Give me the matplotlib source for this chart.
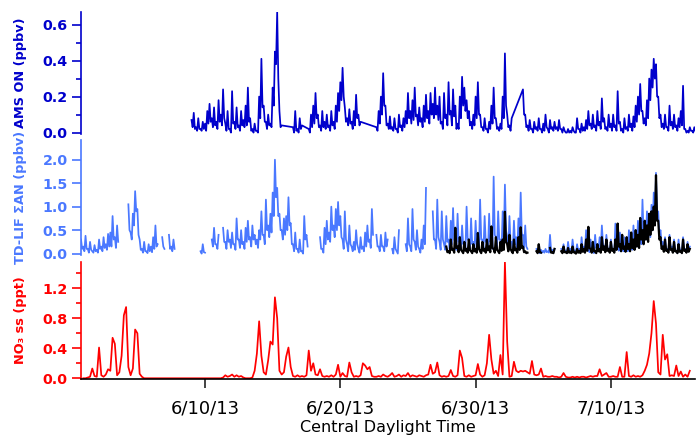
import numpy as np
import pandas as pd
import matplotlib
matplotlib.use("Agg")
import matplotlib.pyplot as plt
import matplotlib.dates as mdates
from matplotlib.ticker import FixedLocator, MultipleLocator, FuncFormatter

nan = np.nan

# 4-hourly readings, one row per day (00, 04, 08, 12, 16, 20 h);
# the *_min lists hold the lowest value in the 2 h after each reading
ams_start = "2013-06-09 00:00"
ams_on = [
    0.07, 0.11, 0.03, 0.08, 0.02, 0.06,   # 6/9
    0.05, 0.12, 0.16, 0.08, 0.14, 0.06,
    0.18, 0.10, 0.24, 0.05, 0.12, 0.02,
    0.23, 0.06, 0.14, 0.04, 0.12, 0.07,
    0.15, 0.25, 0.08, 0.02, 0.05, 0.01,
    0.20, 0.41, 0.15, 0.06, 0.10, 0.05,   # 6/14
    0.25, 0.45, 0.67, 0.12, 0.04, nan,
    nan, nan, nan, 0.03, 0.12, 0.02,
    0.08, 0.04, nan, nan, 0.02, 0.10,
    0.15, 0.22, 0.10, 0.04, 0.12, 0.06,
    0.10, 0.04, 0.12, 0.06, 0.15, 0.22,   # 6/19
    0.28, 0.36, 0.14, 0.08, 0.13, 0.06,
    0.12, 0.21, 0.10, 0.06, nan, nan,
    nan, nan, nan, nan, 0.03, 0.12,
    0.20, 0.33, 0.15, 0.05, 0.09, 0.03,
    0.08, 0.02, 0.10, 0.04, 0.08, 0.12,   # 6/24
    0.22, 0.12, 0.18, 0.25, 0.10, 0.14,
    0.08, 0.15, 0.21, 0.12, 0.22, 0.16,
    0.25, 0.15, 0.20, 0.06, 0.22, 0.10,
    0.28, 0.12, 0.24, 0.15, 0.05, 0.20,
    0.31, 0.25, 0.18, 0.12, 0.06, 0.10,   # 6/29
    0.20, 0.28, 0.10, 0.03, 0.08, 0.02,
    0.06, 0.15, 0.25, 0.08, 0.03, 0.05,
    0.20, 0.44, 0.10, 0.04, 0.08, nan,
    nan, nan, nan, 0.24, 0.10, 0.04,
    0.07, 0.02, 0.06, 0.03, 0.08, 0.02,   # 7/4
    0.05, 0.10, 0.02, 0.07, 0.03, 0.06,
    0.03, 0.07, 0.02, 0.03, 0.00, 0.02,
    0.01, 0.03, 0.00, 0.08, 0.02, 0.05,
    0.03, 0.07, 0.12, 0.05, 0.10, 0.04,
    0.12, 0.06, 0.19, 0.08, 0.03, 0.10,   # 7/9
    0.05, 0.10, 0.04, 0.23, 0.06, 0.02,
    0.08, 0.03, 0.10, 0.05, 0.09, 0.15,
    0.20, 0.27, 0.12, 0.08, 0.18, 0.30,
    0.35, 0.41, 0.38, 0.20, 0.10, 0.05,
    0.10, 0.03, 0.15, 0.06, 0.10, 0.04,   # 7/14
    0.08, 0.12, 0.26, 0.02, 0.01, 0.03,
    0.01, 0.03,
]
ams_on_min = [
    0.03, 0.02, 0.01, 0.02, 0.01, 0.02,   # 6/9
    0.01, 0.05, 0.06, 0.03, 0.04, 0.02,
    0.06, 0.04, 0.08, 0.01, 0.02, 0.00,
    0.05, 0.02, 0.03, 0.01, 0.04, 0.03,
    0.04, 0.06, 0.01, 0.00, 0.01, 0.00,
    0.08, 0.14, 0.06, 0.02, 0.04, 0.03,   # 6/14
    0.15, 0.38, 0.30, 0.03, nan, nan,
    nan, nan, nan, 0.00, 0.01, 0.00,
    0.02, nan, nan, nan, 0.00, 0.03,
    0.05, 0.08, 0.03, 0.01, 0.03, 0.02,
    0.03, 0.01, 0.04, 0.02, 0.06, 0.12,   # 6/19
    0.18, 0.20, 0.06, 0.04, 0.05, 0.02,
    0.04, 0.08, 0.04, nan, nan, nan,
    nan, nan, nan, nan, 0.01, 0.05,
    0.10, 0.15, 0.04, 0.02, 0.02, 0.01,
    0.02, 0.00, 0.03, 0.01, 0.03, 0.05,   # 6/24
    0.08, 0.05, 0.07, 0.09, 0.04, 0.06,
    0.03, 0.06, 0.08, 0.05, 0.10, 0.08,
    0.10, 0.07, 0.05, 0.02, 0.08, 0.04,
    0.10, 0.04, 0.09, 0.02, 0.02, 0.08,
    0.15, 0.12, 0.08, 0.04, 0.02, 0.04,   # 6/29
    0.08, 0.10, 0.03, 0.01, 0.02, 0.00,
    0.02, 0.05, 0.08, 0.02, 0.01, 0.02,
    0.08, 0.15, 0.03, 0.01, nan, nan,
    nan, nan, nan, 0.10, 0.03, 0.01,
    0.02, 0.00, 0.02, 0.01, 0.02, 0.00,   # 7/4
    0.01, 0.03, 0.00, 0.02, 0.01, 0.02,
    0.01, 0.02, 0.00, 0.01, 0.00, 0.00,
    0.00, 0.01, 0.00, 0.02, 0.00, 0.01,
    0.01, 0.02, 0.04, 0.02, 0.03, 0.01,
    0.04, 0.02, 0.06, 0.02, 0.01, 0.03,   # 7/9
    0.01, 0.03, 0.01, 0.05, 0.01, 0.00,
    0.02, 0.01, 0.03, 0.01, 0.03, 0.06,
    0.10, 0.12, 0.05, 0.04, 0.08, 0.18,
    0.25, 0.30, 0.20, 0.08, 0.03, 0.02,
    0.03, 0.01, 0.04, 0.02, 0.03, 0.01,   # 7/14
    0.03, 0.04, 0.02, 0.00, 0.00, 0.01,
    0.00, 0.01,
]

tdlif_start = "2013-05-31 20:00"
tdlif_an = [
    0.30,
    0.15, 0.38, 0.10, 0.25, 0.05, 0.18,   # 6/1
    0.08, 0.30, 0.15, 0.35, 0.20, 0.42,
    0.45, 0.80, 0.35, 0.60, nan, nan,
    nan, nan, 1.05, 0.45, 0.85, 1.33,
    0.95, 0.30, 0.10, 0.25, 0.05, 0.20,
    0.15, 0.35, 0.60, 0.20, nan, 0.35,    # 6/6
    0.10, nan, 0.40, 0.15, 0.30, nan,
    nan, nan, nan, nan, nan, nan,
    nan, nan, nan, nan, 0.05, 0.20,
    0.02, nan, nan, 0.30, 0.55, 0.20,
    0.40, nan, 0.55, 0.25, 0.50, 0.30,    # 6/11
    0.45, 0.20, 0.75, 0.30, 0.50, 0.25,
    0.55, 0.70, 0.35, 0.60, 0.40, 0.30,
    0.50, 0.90, 0.40, 1.15, 0.60, 0.85,
    1.30, 2.00, 1.40, 0.85, 0.50, 0.75,
    0.80, 1.20, 0.65, 0.20, 0.45, 0.10,   # 6/16
    0.30, 0.05, 0.80, 0.40, nan, nan,
    nan, nan, nan, 0.35, 0.10, 0.55,
    0.70, 0.45, 1.00, 0.60, 0.95, 1.10,
    0.80, 0.30, 0.90, 0.20, 0.60, 0.15,
    0.25, 0.50, 0.10, 0.35, 0.15, 0.45,   # 6/21
    0.60, 0.30, 0.95, nan, 0.40, 0.15,
    0.40, 0.15, 0.45, 0.30, nan, 0.10,
    0.35, 0.05, 0.50, nan, nan, 0.20,
    0.75, 0.15, 0.95, 0.25, 0.50, 0.10,
    0.30, 0.60, 1.40, nan, nan, 0.90,     # 6/26
    0.30, 1.15, 0.25, 0.90, 0.20, 0.80,
    0.30, 0.70, 0.97, 0.25, 0.85, 0.30,
    0.60, 0.25, 1.00, 0.30, 0.75, 0.25,
    0.70, 0.30, 1.15, 0.30, 0.80, 0.25,
    0.85, 0.30, 1.64, 0.35, 0.90, 0.30,   # 7/1
    0.90, 1.47, 0.35, 0.80, 0.25, 0.70,
    0.35, 0.75, 1.30, 0.40, 0.60, 0.10,
    nan, nan, nan, 0.10, 0.05, 0.08,
    0.06, 0.10, 0.05, 0.40, 0.08, 0.10,
    nan, nan, 0.10, 0.20, 0.05, 0.25,     # 7/6
    0.10, 0.30, 0.05, 0.20, 0.10, 0.35,
    0.15, 0.50, 0.10, 0.30, 0.05, 0.40,
    0.20, 0.35, 0.60, 0.15, 0.40, 0.10,
    0.30, 0.10, 0.64, 0.20, 0.45, 0.15,
    0.35, 0.15, 0.50, 0.20, 0.60, 0.40,   # 7/11
    0.70, 0.50, 1.15, 0.60, 0.90, 0.75,
    1.04, 1.30, 1.72, 0.90, 0.50, 0.25,
    0.35, 0.10, 0.40, 0.15, 0.30, 0.05,
    0.30, 0.08, 0.35, 0.10, 0.25, 0.15,
]
tdlif_an_min = [
    0.10,
    0.05, 0.10, 0.02, 0.08, 0.02, 0.05,   # 6/1
    0.02, 0.10, 0.05, 0.12, 0.08, 0.15,
    0.15, 0.30, 0.12, 0.25, nan, nan,
    nan, nan, 0.50, 0.30, 0.60, 0.90,
    0.40, 0.08, 0.02, 0.05, 0.01, 0.05,
    0.03, 0.10, 0.15, nan, nan, 0.15,     # 6/6
    nan, nan, 0.10, 0.05, 0.10, nan,
    nan, nan, nan, nan, nan, nan,
    nan, nan, nan, nan, 0.00, 0.03,
    nan, nan, nan, 0.15, 0.20, 0.10,
    nan, nan, 0.25, 0.10, 0.25, 0.12,     # 6/11
    0.20, 0.08, 0.30, 0.12, 0.20, 0.10,
    0.25, 0.30, 0.15, 0.30, 0.20, 0.12,
    0.30, 0.40, 0.20, 0.50, 0.35, 0.45,
    0.80, 1.20, 0.80, 0.50, 0.30, 0.40,
    0.50, 0.60, 0.20, 0.05, 0.10, 0.02,   # 6/16
    0.05, 0.00, 0.30, 0.15, nan, nan,
    nan, nan, nan, 0.10, 0.02, 0.20,
    0.30, 0.25, 0.50, 0.35, 0.50, 0.60,
    0.35, 0.10, 0.30, 0.05, 0.20, 0.05,
    0.08, 0.20, 0.02, 0.10, 0.05, 0.15,   # 6/21
    0.25, 0.12, 0.40, nan, 0.15, 0.05,
    0.15, 0.05, 0.15, nan, nan, 0.00,
    0.10, 0.00, nan, nan, nan, 0.05,
    0.20, 0.05, 0.30, 0.08, 0.15, 0.02,
    0.10, 0.20, nan, nan, nan, 0.30,      # 6/26
    0.10, 0.35, 0.08, 0.30, 0.08, 0.25,
    0.10, 0.20, 0.30, 0.08, 0.25, 0.10,
    0.20, 0.08, 0.30, 0.10, 0.20, 0.08,
    0.20, 0.10, 0.30, 0.10, 0.25, 0.08,
    0.25, 0.10, 0.40, 0.10, 0.30, 0.10,   # 7/1
    0.30, 0.50, 0.10, 0.25, 0.08, 0.20,
    0.10, 0.20, 0.40, 0.12, 0.15, nan,
    nan, nan, nan, 0.02, 0.01, 0.02,
    0.02, 0.03, 0.02, 0.05, 0.03, nan,
    nan, nan, 0.03, 0.05, 0.01, 0.06,     # 7/6
    0.03, 0.08, 0.01, 0.05, 0.03, 0.10,
    0.05, 0.15, 0.03, 0.08, 0.01, 0.12,
    0.06, 0.10, 0.20, 0.05, 0.12, 0.03,
    0.08, 0.03, 0.20, 0.06, 0.15, 0.05,
    0.10, 0.05, 0.15, 0.08, 0.20, 0.15,   # 7/11
    0.30, 0.20, 0.45, 0.30, 0.45, 0.35,
    0.50, 0.70, 0.80, 0.40, 0.20, 0.08,
    0.10, 0.03, 0.10, 0.04, 0.08, 0.01,
    0.08, 0.02, 0.10, 0.03, 0.06, nan,
]

tdlif2_start = "2013-06-27 20:00"
tdlif_an_2 = [
    0.15,
    0.05, 0.30, 0.10, 0.55, 0.15, 0.35,   # 6/28
    0.05, 0.25, 0.10, 0.30, 0.05, 0.20,
    0.10, 0.44, 0.05, 0.25, 0.10, 0.30,
    0.15, 0.58, 0.10, 0.35, 0.05, 0.25,
    0.30, 0.89, 0.20, 0.40, 0.05, 0.30,
    0.10, 0.35, 0.56, 0.15, 0.05, 0.02,   # 7/3
    nan, nan, nan, 0.05, 0.20, 0.02,
    nan, nan, nan, 0.12, 0.03, 0.10,
    nan, nan, 0.05, 0.15, 0.03, 0.12,
    0.04, 0.15, 0.02, 0.10, 0.05, 0.20,
    0.10, 0.30, 0.57, 0.10, 0.25, 0.05,   # 7/8
    0.20, 0.10, 0.35, 0.15, 0.30, 0.10,
    0.25, 0.10, 0.30, 0.64, 0.20, 0.40,
    0.15, 0.35, 0.20, 0.45, 0.30, 0.50,
    0.40, 0.76, 0.50, 0.70, 0.60, 0.85,
    0.90, 1.00, 1.67, 0.70, 0.35, 0.15,   # 7/13
    0.30, 0.08, 0.35, 0.10, 0.25, 0.05,
    0.20, 0.05, 0.30, 0.08, 0.20, 0.10,
]
tdlif_an_2_min = [
    0.03,
    0.01, 0.08, 0.02, 0.12, 0.03, 0.08,   # 6/28
    0.01, 0.06, 0.02, 0.07, 0.01, 0.05,
    0.02, 0.10, 0.01, 0.06, 0.02, 0.07,
    0.03, 0.12, 0.02, 0.08, 0.01, 0.06,
    0.08, 0.25, 0.05, 0.10, 0.01, 0.07,
    0.02, 0.08, 0.12, 0.03, 0.01, nan,    # 7/3
    nan, nan, nan, 0.01, 0.03, nan,
    nan, nan, nan, 0.02, 0.01, nan,
    nan, nan, 0.01, 0.03, 0.01, 0.02,
    0.01, 0.03, 0.00, 0.02, 0.01, 0.04,
    0.02, 0.06, 0.12, 0.02, 0.05, 0.01,   # 7/8
    0.05, 0.02, 0.08, 0.03, 0.06, 0.02,
    0.06, 0.02, 0.08, 0.15, 0.05, 0.10,
    0.04, 0.10, 0.05, 0.12, 0.08, 0.15,
    0.12, 0.30, 0.20, 0.30, 0.25, 0.40,
    0.50, 0.60, 0.70, 0.30, 0.10, 0.04,   # 7/13
    0.06, 0.02, 0.08, 0.02, 0.05, 0.01,
    0.04, 0.01, 0.06, 0.02, 0.04, nan,
]

no3_start = "2013-06-01 00:00"
no3_ss = [
    0.00, 0.00, 0.01, 0.02, 0.13, 0.03,   # 6/1
    0.02, 0.41, 0.04, 0.02, 0.05, 0.12,
    0.10, 0.54, 0.46, 0.04, 0.08, 0.30,
    0.84, 0.95, 0.15, 0.04, 0.13, 0.65,
    0.60, 0.06, 0.02, 0.00, 0.00, 0.00,
    0.00, 0.00, 0.00, 0.00, 0.00, 0.00,   # 6/6
    0.00, 0.00, 0.00, 0.00, 0.00, 0.00,
    0.00, 0.00, 0.00, 0.00, 0.00, 0.00,
    0.00, 0.00, 0.00, 0.00, 0.00, 0.00,
    0.00, 0.00, 0.00, 0.00, 0.00, 0.00,
    0.00, 0.00, 0.01, 0.04, 0.02, 0.03,   # 6/11
    0.05, 0.02, 0.04, 0.02, 0.03, 0.01,
    0.00, 0.00, 0.00, 0.01, 0.10, 0.33,
    0.76, 0.30, 0.08, 0.05, 0.24, 0.49,
    0.45, 1.08, 0.80, 0.10, 0.05, 0.08,
    0.29, 0.41, 0.15, 0.03, 0.02, 0.04,   # 6/16
    0.02, 0.03, 0.02, 0.04, 0.37, 0.10,
    0.20, 0.05, 0.04, 0.12, 0.03, 0.02,
    0.03, 0.02, 0.04, 0.02, 0.05, 0.18,
    0.02, 0.07, 0.03, 0.02, 0.21, 0.08,
    0.02, 0.03, 0.02, 0.04, 0.20, 0.17,   # 6/21
    0.12, 0.15, 0.03, 0.02, 0.02, 0.03,
    0.02, 0.05, 0.03, 0.02, 0.04, 0.07,
    0.02, 0.03, 0.05, 0.02, 0.04, 0.03,
    0.07, 0.02, 0.04, 0.03, 0.02, 0.04,
    0.03, 0.02, 0.04, 0.05, 0.18, 0.06,   # 6/26
    0.08, 0.21, 0.04, 0.02, 0.03, 0.02,
    0.03, 0.11, 0.03, 0.02, 0.04, 0.37,
    0.27, 0.03, 0.02, 0.04, 0.02, 0.03,
    0.04, 0.19, 0.05, 0.02, 0.04, 0.20,
    0.58, 0.25, 0.06, 0.10, 0.03, 0.31,   # 7/1
    0.05, 1.55, 0.49, 0.02, 0.03, 0.22,
    0.10, 0.08, 0.10, 0.09, 0.10, 0.08,
    0.06, 0.23, 0.05, 0.04, 0.05, 0.13,
    0.02, 0.03, 0.02, 0.02, 0.03, 0.02,
    0.02, 0.01, 0.02, 0.07, 0.02, 0.01,   # 7/6
    0.01, 0.02, 0.01, 0.02, 0.01, 0.02,
    0.02, 0.01, 0.02, 0.03, 0.02, 0.03,
    0.03, 0.12, 0.03, 0.05, 0.07, 0.02,
    0.02, 0.03, 0.02, 0.02, 0.15, 0.02,
    0.02, 0.35, 0.03, 0.02, 0.04, 0.02,   # 7/11
    0.03, 0.02, 0.04, 0.10, 0.18, 0.33,
    0.60, 1.03, 0.73, 0.08, 0.05, 0.58,
    0.25, 0.32, 0.03, 0.04, 0.03, 0.17,
    0.03, 0.09, 0.02, 0.05, 0.02, 0.10,
]

tick_dates = ["2013-06-10", "2013-06-20", "2013-06-30", "2013-07-10"]
x_range = ["2013-05-31 20:00", "2013-07-16 05:15"]

c_ams = "#0000cc"
c_lif = "#4a78ff"
c_no3 = "#ff0000"


def to_series(start, values, mins=None):
    if mins is None:
        idx = pd.date_range(start, periods=len(values), freq="4h")
        return pd.Series(values, index=idx, dtype=float)
    # reading at each 4 h step, then the 2 h minimum right after it
    both = np.column_stack([values, mins]).ravel()
    idx = pd.date_range(start, periods=len(both), freq="2h")
    return pd.Series(both, index=idx, dtype=float)


def style_axis(ax, color, ylim, major, minor, label):
    ax.set_ylim(*ylim)
    ax.set_xlim(pd.Timestamp(x_range[0]), pd.Timestamp(x_range[1]))
    for side in ("top", "right", "bottom"):
        ax.spines[side].set_visible(False)
    ax.spines["left"].set_color(color)
    ax.spines["left"].set_linewidth(1.2)
    ax.yaxis.set_major_locator(MultipleLocator(major))
    if minor:
        ax.yaxis.set_minor_locator(MultipleLocator(minor))
    ax.yaxis.set_major_formatter(FuncFormatter(lambda v, p: f"{v:.1f}"))
    ax.tick_params(axis="y", which="major", length=6.5, width=1.2,
                   color=color, labelcolor=color, pad=3, labelsize=10.3)
    ax.tick_params(axis="y", which="minor", length=3.6, width=1.2, color=color)
    for t in ax.get_yticklabels():
        t.set_fontweight("bold")
    ax.set_ylabel(label, color=color, fontsize=9.3, fontweight="bold")
    ax.yaxis.set_label_coords(-0.088, 0.5)
    ax.tick_params(axis="x", which="both", bottom=False, labelbottom=False)


fig = plt.figure(figsize=(6.96, 4.36), dpi=100)
left, width = 0.1164, 0.8822
ax1 = fig.add_axes([left, 0.6938, width, 0.2787])
ax2 = fig.add_axes([left, 0.4151, width, 0.2638])
ax3 = fig.add_axes([left, 0.1307, width, 0.2691])

# AMS gaps are bridged by straight segments
ams = to_series(ams_start, ams_on, ams_on_min).dropna()
ax1.plot(ams.index, ams.values, color=c_ams, lw=1.25)

lif = to_series(tdlif_start, tdlif_an, tdlif_an_min)
lif2 = to_series(tdlif2_start, tdlif_an_2, tdlif_an_2_min)
ax2.plot(lif.index, lif.values, color=c_lif, lw=1.25)
ax2.plot(lif2.index, lif2.values, color="black", lw=1.6)

no3 = to_series(no3_start, no3_ss)
ax3.plot(no3.index, no3.values, color=c_no3, lw=1.25)

style_axis(ax1, c_ams, (-0.005, 0.67), 0.2, 0.1, "AMS ON (ppbv)")
style_axis(ax2, c_lif, (-0.03, 2.42), 0.5, None, "TD-LIF \u03a3AN (ppbv)")
style_axis(ax3, c_no3, (-0.01, 1.555), 0.4, 0.2, "NO\u2083 ss (ppt)")

# shared date axis only on the bottom panel
ax3.spines["bottom"].set_visible(True)
ax3.spines["bottom"].set_color("black")
ax3.spines["bottom"].set_linewidth(1.2)
ax3.xaxis.set_major_locator(FixedLocator(mdates.date2num(pd.to_datetime(tick_dates))))
ax3.xaxis.set_major_formatter(FuncFormatter(
    lambda v, p: "{d.month}/{d.day}/{d:%y}".format(d=mdates.num2date(v))))
ax3.tick_params(axis="x", which="major", bottom=True, labelbottom=True,
                length=6.5, width=1.2, color="#222222", pad=8, labelsize=13)
ax3.set_xlabel("Central Daylight Time", fontsize=11.5, labelpad=2)

fig.savefig("out.png", dpi=100)
